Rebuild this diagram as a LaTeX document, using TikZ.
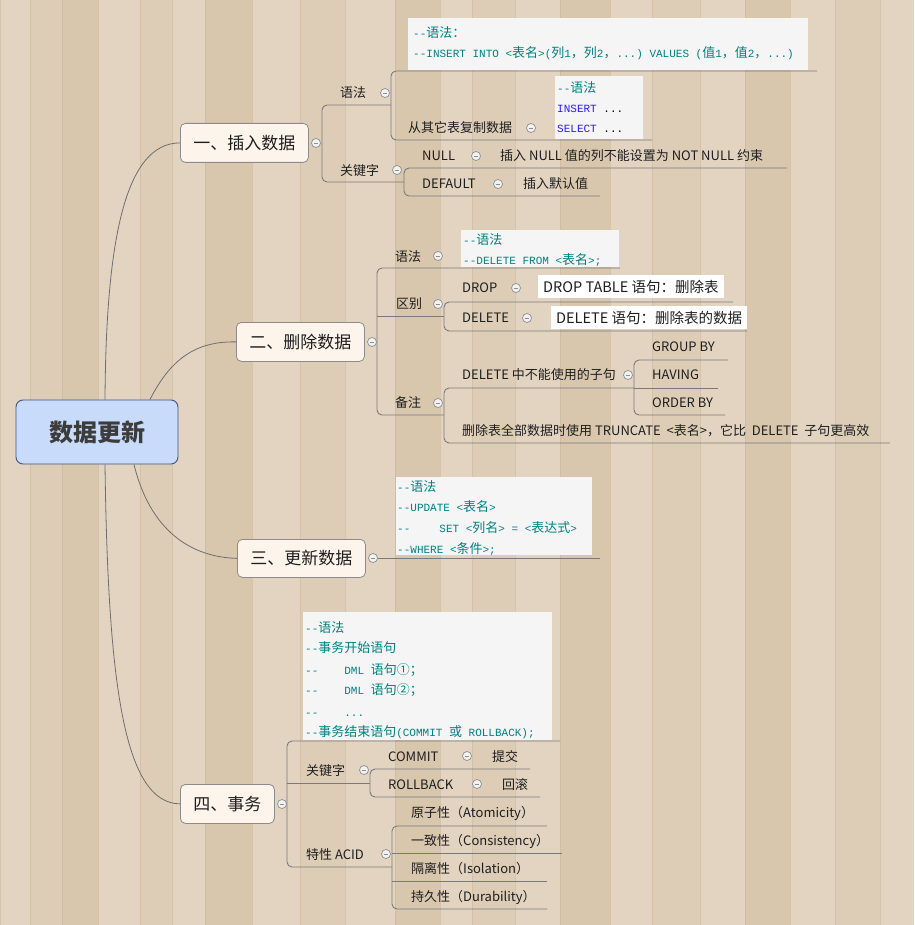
\documentclass[tikz,border=0pt]{standalone}
\usepackage{fontspec}
\setmainfont{Noto Sans CJK SC}
\setmonofont{Liberation Mono}
\newfontfamily\cjk[Scale=1.18]{Noto Sans CJK SC}
\newcommand\zh[1]{{\cjk #1}}
\definecolor{woodA}{HTML}{DDCDB7}
\definecolor{woodB}{HTML}{E2D4C1}
\definecolor{woodC}{HTML}{D8C6AD}
\definecolor{woodD}{HTML}{C9B498}
\definecolor{ln}{HTML}{7A7A7A}
\definecolor{curvec}{HTML}{6E6E6E}
\definecolor{nfill}{HTML}{FDF4EC}
\definecolor{nborder}{HTML}{8C8C8C}
\definecolor{rootf}{HTML}{C9DBFB}
\definecolor{rootb}{HTML}{40557F}
\definecolor{roottxt}{HTML}{3C3C3C}
\definecolor{codebg}{HTML}{F5F5F5}
\definecolor{cteal}{HTML}{008080}
\definecolor{kwblue}{HTML}{2A1AFF}
\definecolor{txt}{HTML}{1E1E1E}
\definecolor{togc}{HTML}{8E8E8E}
\definecolor{togf}{HTML}{F2F2F2}
\tikzset{
  lnk/.style={draw=ln, line width=0.9pt, rounded corners=5pt},
  curve/.style={draw=curvec, line width=0.8pt},
  tog/.style={circle, draw=togc, fill=togf, line width=0.7pt, minimum size=9pt, inner sep=0pt,
    path picture={\draw[togc, line width=0.9pt] ([xshift=-2.4pt]path picture bounding box.center) -- ([xshift=2.4pt]path picture bounding box.center);}},
  lbl/.style={anchor=base west, inner sep=0pt, text=txt, font=\fontsize{13}{15}\selectfont},
  codeline/.style={anchor=base west, inner sep=0pt, text=cteal, font=\fontsize{11}{13}\selectfont\ttfamily},
  codebox/.style={fill=codebg, draw=none, inner sep=0pt, anchor=north west},
  topic/.style={draw=nborder, fill=nfill, rounded corners=5pt, line width=0.8pt, inner sep=0pt, anchor=north west, font=\fontsize{17}{20}\selectfont, text=txt},
  whitebox/.style={fill=white, anchor=west, inner xsep=5pt, inner ysep=0pt, minimum height=23pt, text=txt, font=\fontsize{14.5}{16}\selectfont}
}
\begin{document}
\begin{tikzpicture}[x=1pt,y=-1pt]
\useasboundingbox (0,0) rectangle (914,925);
% wood background
\fill[woodA] (0,0) rectangle (914,925);
\foreach \xa/\xb/\c in {0/30/woodB,30/62/woodA,62/98/woodC,98/140/woodB,140/172/woodA,172/205/woodB,205/252/woodC,252/300/woodB,300/345/woodA,345/395/woodB,395/440/woodC,440/472/woodB,472/515/woodA,515/560/woodB,560/610/woodC,610/652/woodB,652/700/woodA,700/745/woodB,745/790/woodC,790/835/woodB,835/880/woodA,880/914/woodB}
  {\fill[\c] (\xa,0) rectangle (\xb,925);
   \draw[woodD, line width=0.5pt, opacity=0.5] (\xa,0) -- (\xa,925);}

% root
\node[draw=rootb, fill=rootf, rounded corners=7pt, minimum width=162pt, minimum height=64pt, line width=0.9pt, inner sep=0pt, font=\bfseries\fontsize{24}{28}\selectfont, text=roottxt] (root) at (97,432) {数据更新};

% level 1 topics
\node[topic, minimum width=128pt, minimum height=39pt] (n1) at (180,123) {一、插入数据};
\node[topic, minimum width=128pt, minimum height=39pt] (n2) at (236,322) {二、删除数据};
\node[topic, minimum width=128pt, minimum height=38pt] (n3) at (237,539) {三、更新数据};
\node[topic, minimum width=94pt, minimum height=39pt] (n4) at (180,784) {四、事务};

\draw[curve] ([xshift=8pt]root.north) .. controls (106,240) and (125,143) .. (n1.west);
\draw[curve] ([xshift=53pt]root.north) .. controls (170,360) and (195,341) .. (n2.west);
\draw[curve] ([xshift=37pt]root.south) .. controls (150,530) and (190,557) .. (n3.west);
\draw[curve] ([xshift=8pt]root.south) .. controls (108,690) and (125,803) .. (n4.west);

% ===== Branch 1 =====
\draw[lnk] (391,105) -- (322,105) -- (322,182) -- (404,182);
\draw[lnk] (817,71) -- (391,71) -- (391,140) -- (652,140);
\draw[lnk] (787,168) -- (404,168) -- (404,196) -- (600,196);
\node[tog] (t1) at (316,143) {};

\node[codebox, minimum width=400pt, minimum height=52pt] (cb1) at (408,18) {};
\node[codeline] (cb1a) at (413,38) {--\zh{语法：}};
\node[codeline] (cb1b) at (413,58) {--INSERT INTO <\zh{表名}>(\zh{列}1\zh{，}\zh{列}2\zh{，}...) VALUES (\zh{值}1\zh{，}\zh{值}2\zh{，}...)};

\node[lbl] (a1) at (340,97.8) {语法};
\node[tog] (ta1) at (385,93) {};
\node[lbl] (a11) at (408,132.8) {从其它表复制数据};
\node[tog] (ta11) at (531,128) {};
\node[codebox, minimum width=88pt, minimum height=63pt] (cb2) at (555,76) {};
\node[codeline] (cb2a) at (557,93) {--\zh{语法}};
\node[codeline] (cb2b) at (557,113) {{\color{kwblue}INSERT} {\color{black}...}};
\node[codeline] (cb2c) at (557,133) {{\color{kwblue}SELECT} {\color{black}...}};

\node[lbl] (a2) at (340,175.8) {关键字};
\node[tog] (ta2) at (397,170) {};
\node[lbl] (a21) at (422,160.8) {NULL};
\node[tog] (ta21) at (476,156) {};
\node[lbl] (a211) at (500,160.8) {插入 NULL 值的列不能设置为 NOT NULL 约束};
\node[lbl] (a22) at (422,188.8) {DEFAULT};
\node[tog] (ta22) at (498,184) {};
\node[lbl] (a221) at (523,188.8) {插入默认值};

% ===== Branch 2 =====
\draw[lnk] (620,268) -- (377,268) -- (377,415) -- (444,415);
\draw[lnk] (377,316) -- (444,316);
\draw[lnk] (733,302) -- (444,302) -- (444,331) -- (747,331);
\draw[lnk] (634,388) -- (444,388) -- (444,443) -- (890,443);
\draw[lnk] (728,360) -- (634,360) -- (634,415) -- (725,415);
\draw[lnk] (634,388) -- (718,388);
\node[tog] (t2) at (372,342) {};

\node[lbl] (b1) at (395,261.8) {语法};
\node[tog] (tb1) at (438,256) {};
\node[codebox, minimum width=158pt, minimum height=37pt] (cb3) at (461,230) {};
\node[codeline] (cb3a) at (463,244) {--\zh{语法}};
\node[codeline] (cb3b) at (463,264) {--DELETE FROM <\zh{表名}>;};

\node[lbl] (b2) at (396,308.8) {区别};
\node[tog] (tb2) at (438,304) {};
\node[lbl] (b21) at (462,292.8) {DROP};
\node[tog] (tb21) at (516,288) {};
\node[whitebox] (b211) at (538,286.5) {DROP TABLE 语句：删除表};
\node[lbl] (b22) at (462,322.8) {DELETE};
\node[tog] (tb22) at (527,318) {};
\node[whitebox] (b221) at (551,317.5) {DELETE 语句：删除表的数据};

\node[lbl] (b3) at (395,407.8) {备注};
\node[tog] (tb3) at (438,403) {};
\node[lbl] (b31) at (462,379.8) {DELETE 中不能使用的子句};
\node[tog] (tb31) at (628,375) {};
\node[lbl] (b311) at (652,351.8) {GROUP BY};
\node[lbl] (b312) at (652,379.8) {HAVING};
\node[lbl] (b313) at (652,407.8) {ORDER BY};
\node[lbl] (b32) at (462,435.8) {删除表全部数据时使用 TRUNCATE \ <表名>，它比 \ DELETE \ 子句更高效};

% ===== Branch 3 =====
\node[tog] (t3) at (373,558) {};
\draw[lnk] (t3.east) -- (600,558);
\node[codebox, minimum width=196pt, minimum height=78pt] (cb4) at (396,477) {};
\node[codeline] (cb4a) at (397,491) {--\zh{语法}};
\node[codeline] (cb4b) at (397,511) {--UPDATE <\zh{表名}>};
\node[codeline] (cb4c) at (397,532) {--\hspace{29pt}SET <\zh{列名}> = <\zh{表达式}>};
\node[codeline] (cb4d) at (397,553) {--WHERE <\zh{条件}>;};

% ===== Branch 4 =====
\draw[lnk] (560,741) -- (287,741) -- (287,867) -- (392,867);
\draw[lnk] (287,783) -- (370,783);
\draw[lnk] (530,769) -- (370,769) -- (370,797) -- (540,797);
\draw[lnk] (547,826) -- (392,826) -- (392,909) -- (547,909);
\draw[lnk] (392,853) -- (562,853);
\draw[lnk] (392,881) -- (547,881);
\node[tog] (t4) at (282,804) {};

\node[codebox, minimum width=249pt, minimum height=128pt] (cb5) at (303,612) {};
\node[codeline] (cb5a) at (305,632) {--\zh{语法}};
\node[codeline] (cb5b) at (305,652) {--\zh{事务开始语句}};
\node[codeline] (cb5c) at (305,674) {--\hspace{26pt}DML \zh{语句①；}};
\node[codeline] (cb5d) at (305,694) {--\hspace{26pt}DML \zh{语句②；}};
\node[codeline] (cb5e) at (305,716) {--\hspace{26pt}...};
\node[codeline] (cb5f) at (305,736) {--\zh{事务结束语句}(COMMIT \zh{或} ROLLBACK);};

\node[lbl] (d1) at (306,775.8) {关键字};
\node[tog] (td1) at (364,770) {};
\node[lbl] (d11) at (388,761.8) {COMMIT};
\node[tog] (td11) at (467,756) {};
\node[lbl] (d111) at (492,761.8) {提交};
\node[lbl] (d12) at (388,789.8) {ROLLBACK};
\node[tog] (td12) at (477,784) {};
\node[lbl] (d121) at (502,789.8) {回滚};

\node[lbl] (d2) at (306,859.8) {特性 ACID};
\node[tog] (td2) at (386,854) {};
\node[lbl] (d21) at (411,817.8) {原子性（Atomicity）};
\node[lbl] (d22) at (411,845.8) {一致性（Consistency）};
\node[lbl] (d23) at (411,873.8) {隔离性（Isolation）};
\node[lbl] (d24) at (411,901.8) {持久性（Durability）};
\end{tikzpicture}
\end{document}
